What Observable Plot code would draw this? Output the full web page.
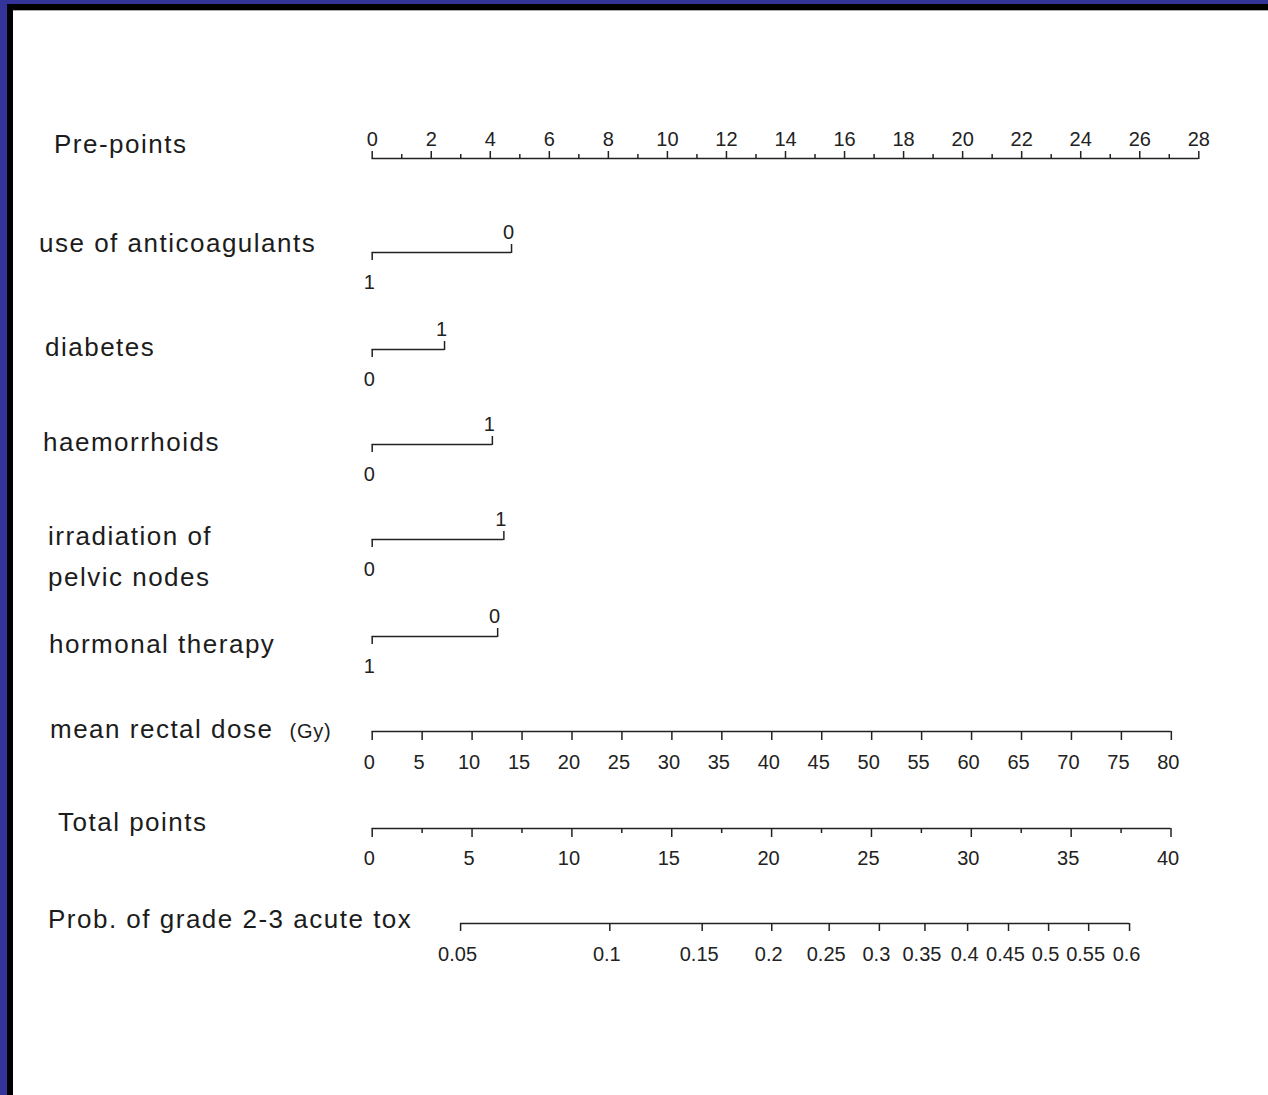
<!DOCTYPE html>
<html>
<head>
<meta charset="utf-8">
<script src="https://cdn.jsdelivr.net/npm/d3@7"></script>
<script src="https://cdn.jsdelivr.net/npm/@observablehq/plot@0.6"></script>
<style>
html, body { margin: 0; padding: 0; background: #fff; }
#page { position: relative; width: 1268px; height: 1095px; background: #fff; overflow: hidden; font-family: "Liberation Sans", Arial, sans-serif; }
.bd { position: absolute; }
.lab { position: absolute; font-size: 26px; line-height: 41px; letter-spacing: 1.5px; color: #1c1c1c; white-space: pre-line; }
.unit { font-size: 20px; letter-spacing: 0.8px; margin-left: 16px; }
</style>
</head>
<body>
<div id="page">
  <div class="bd" style="left:0;top:0;width:1268px;height:4px;background:#333399"></div>
  <div class="bd" style="left:0;top:0;width:7px;height:1095px;background:#333399"></div>
  <div class="bd" style="left:7px;top:4px;width:1261px;height:6px;background:#000"></div>
  <div class="bd" style="left:7px;top:4px;width:6px;height:1091px;background:#000"></div>
  <div class="bd" style="left:13px;top:10px;width:1255px;height:1px;background:#aaa"></div>
</div>
<script>
// ---------------- data ----------------
const prePointsMajor = [0, 2, 4, 6, 8, 10, 12, 14, 16, 18, 20, 22, 24, 26, 28];
const prePointsMinor = [1, 3, 5, 7, 9, 11, 13, 15, 17, 19, 21, 23, 25, 27];

const binaryVars   = ["use of anticoagulants", "diabetes", "haemorrhoids", "irradiation of\npelvic nodes", "hormonal therapy"];
const binaryPoints = [4.72, 2.45, 4.07, 4.46, 4.25];   // pre-points of the higher-scoring level
const binaryLow    = ["1", "0", "0", "0", "1"];          // level drawn at 0 points
const binaryHigh   = ["0", "1", "1", "1", "0"];          // level drawn at binaryPoints

const doseTicks = [0, 5, 10, 15, 20, 25, 30, 35, 40, 45, 50, 55, 60, 65, 70, 75, 80];
const doseMaxPrePoints = 27.07;                          // pre-points of 80 Gy

const totalMajor = [0, 5, 10, 15, 20, 25, 30, 35, 40];
const totalMinor = [2.5, 7.5, 12.5, 17.5, 22.5, 27.5, 32.5, 37.5];

const probTicks = [0.05, 0.1, 0.15, 0.2, 0.25, 0.3, 0.35, 0.4, 0.45, 0.5, 0.55, 0.6];
const logitIntercept = -3.387;   // logit(p) = intercept + slope * total points
const logitSlope = 0.1;

// ---------------- layout ----------------
const W = 1268;
const X0 = 371.7;          // pixel of 0 points
const X28 = 1198.3;        // pixel of 28 pre-points
const XTOT = 1170.5;       // pixel of 40 total points / 80 Gy
const rowY = { pre: 157.5, bin: [252.3, 349.3, 444.3, 539.3, 635.7], dose: 731, total: 827.5, prob: 923.3 };
const labelPos = [
  { text: "Pre-points", x: 54, base: 152 },
  { text: binaryVars[0], x: 39, base: 251 },
  { text: binaryVars[1], x: 45, base: 355 },
  { text: binaryVars[2], x: 43, base: 450 },
  { text: binaryVars[3], x: 48, base: 544 },
  { text: binaryVars[4], x: 49, base: 652 },
  { text: "mean rectal dose", x: 50, base: 737, unit: "(Gy)" },
  { text: "Total points", x: 58, base: 830 },
  { text: "Prob. of grade 2-3 acute tox", x: 48, base: 927 }
];

const page = document.getElementById("page");
const INK = "#222";
const style = { fontFamily: "'Liberation Sans', Arial, sans-serif", fontSize: "20px", color: INK, background: "transparent", overflow: "visible" };

function row(lineY, domainMax, xEnd, marks) {
  const svg = Plot.plot({
    width: W, height: 80, marginTop: 40, marginBottom: 40,
    marginLeft: X0, marginRight: W - xEnd,
    x: { domain: [0, domainMax], axis: null },
    y: { domain: [0, 1], axis: null },
    style,
    marks
  });
  svg.style.position = "absolute";
  svg.style.left = "0px";
  svg.style.top = (lineY - 40) + "px";
  page.appendChild(svg);
}

const axisLine = (a, b) => Plot.ruleY([0], { x1: a, x2: b, stroke: INK, strokeWidth: 1.5 });
// an axis drawn as ticks (no dx) plus labels (optionally nudged)
function axis(values, anchor, tickSize, tickPadding, fmt, dx = 0) {
  return [
    Plot.axisX(values, { anchor, tickSize, stroke: INK, strokeWidth: 1.5, fill: "none", label: null }),
    fmt ? Plot.axisX(values, { anchor, tickSize, tickPadding, stroke: "none", fill: INK, dx, tickFormat: fmt, label: null }) : null
  ];
}

// Pre-points
row(rowY.pre, 28, X28, [
  axisLine(0, 28),
  axis(prePointsMinor, "top", 5, 0, null),
  axis(prePointsMajor, "top", 8, 5, d => String(d))
]);

// Binary predictors
binaryVars.forEach((name, i) => {
  row(rowY.bin[i], 28, X28, [
    axisLine(0, binaryPoints[i]),
    axis([0], "bottom", 8, 14, () => binaryLow[i], -3),
    axis([binaryPoints[i]], "top", 9, 5, () => binaryHigh[i], -3)
  ]);
});

// Mean rectal dose (Gy) -> scale in Gy, spanning 0..doseMaxPrePoints pre-points
row(rowY.dose, 80, X0 + (X28 - X0) * doseMaxPrePoints / 28, [
  axisLine(0, 80),
  axis(doseTicks, "bottom", 9, 14, d => String(d), -3)
]);

// Total points
row(rowY.total, 40, XTOT, [
  axisLine(0, 40),
  axis(totalMinor, "bottom", 5, 0, null),
  axis(totalMajor, "bottom", 9, 13, d => String(d), -3)
]);

// Probability, placed on the total-points scale via the logistic model
const probToTotal = p => (Math.log(p / (1 - p)) - logitIntercept) / logitSlope;
const totalToProb = t => 1 / (1 + Math.exp(-(logitIntercept + logitSlope * t)));
const fmtP = d3.format(".2~f");
const probPos = probTicks.map(probToTotal);
row(rowY.prob, 40, XTOT, [
  axisLine(d3.min(probPos), d3.max(probPos)),
  axis(probPos, "bottom", 8, 15, t => fmtP(totalToProb(t)), -3)
]);

// Row labels
labelPos.forEach(l => {
  const div = document.createElement("div");
  div.className = "lab";
  div.style.left = l.x + "px";
  div.style.top = (l.base - 28) + "px";
  div.textContent = l.text;
  if (l.unit) {
    const s = document.createElement("span");
    s.className = "unit";
    s.textContent = l.unit;
    div.appendChild(s);
  }
  page.appendChild(div);
});
</script>
</body>
</html>
